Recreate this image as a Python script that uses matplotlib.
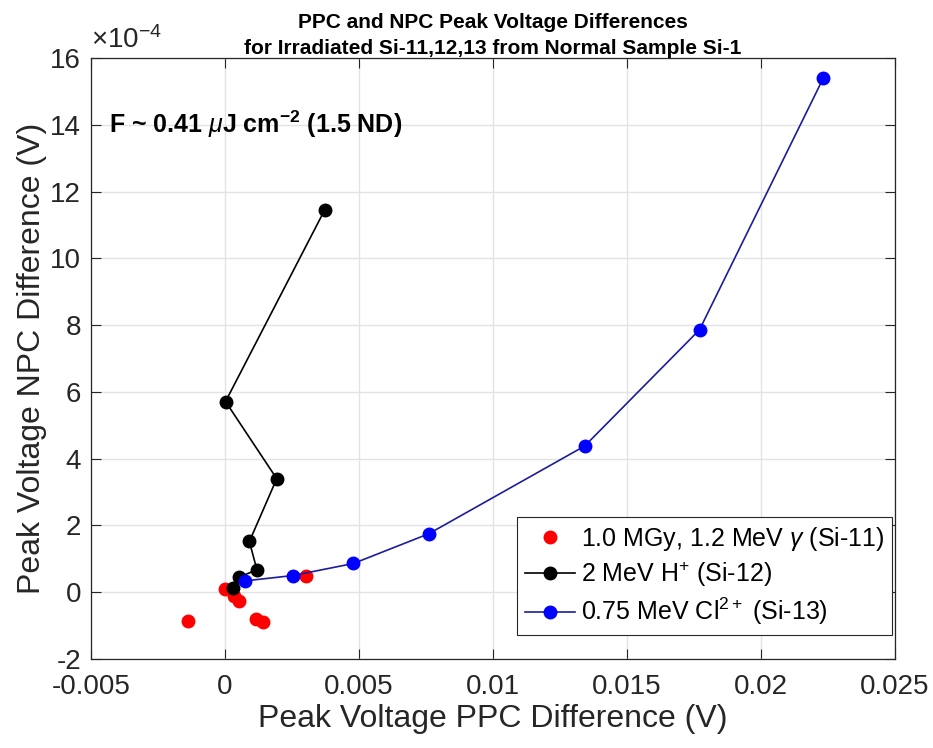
# PPC / NPC peak voltage differences for irradiated Si samples
import matplotlib
matplotlib.use("Agg")
import matplotlib.pyplot as plt

plt.rcParams["font.family"] = ["Liberation Sans", "DejaVu Sans"]
plt.rcParams["mathtext.fontset"] = "custom"
plt.rcParams["mathtext.rm"] = "Liberation Sans"
plt.rcParams["mathtext.it"] = "Liberation Sans:italic"
plt.rcParams["mathtext.bf"] = "Liberation Sans:bold"

# data (x: PPC difference in V, y: NPC difference in units of 1e-4 V)
gamma_x = [-0.00136, 0.0, 0.00033, 0.00054, 0.00116, 0.00141, 0.00303]
gamma_y = [-0.86, 0.10, -0.12, -0.26, -0.81, -0.88, 0.50]

proton_x = [0.00031, 0.00055, 0.0012, 0.00092, 0.00194, 0.00003, 0.00373]
proton_y = [0.12, 0.46, 0.67, 1.52, 3.40, 5.71, 11.45]

chlorine_x = [0.00077, 0.00255, 0.0048, 0.00761, 0.01343, 0.01771, 0.02233]
chlorine_y = [0.34, 0.50, 0.86, 1.75, 4.38, 7.86, 15.40]

xticks = [-0.005, 0, 0.005, 0.01, 0.015, 0.02, 0.025]
xtick_labels = ["-0.005", "0", "0.005", "0.01", "0.015", "0.02", "0.025"]
yticks = [-2, 0, 2, 4, 6, 8, 10, 12, 14, 16]
ytick_labels = ["-2", "0", "2", "4", "6", "8", "10", "12", "14", "16"]

fig = plt.figure(figsize=(9.33, 7.48), dpi=100)
ax = fig.add_axes([0.0972, 0.1190, 0.862, 0.8035])

ax.plot(gamma_x, gamma_y, "o", color="red", markersize=9, linestyle="none",
        label=r"1.0 MGy, 1.2 MeV $\gamma$ (Si-11)", zorder=3)
ax.plot(proton_x, proton_y, "-o", color="black", markersize=9, linewidth=1.2,
        label=r"2 MeV H$^{+}$ (Si-12)", zorder=4)
ax.plot(chlorine_x, chlorine_y, "-", color="#1c1c9c", linewidth=1.2, zorder=5)
ax.plot(chlorine_x, chlorine_y, "o", color="blue", markersize=9, zorder=6)
# legend proxy for the blue series
ax.plot([], [], "-o", color="#1c1c9c", markerfacecolor="blue", markeredgecolor="blue",
        markersize=9, linewidth=1.2, label=r"0.75 MeV Cl$^{2+}$ (Si-13)")

ax.set_xlim(-0.005, 0.025)
ax.set_ylim(-2, 16)
ax.set_xticks(xticks)
ax.set_xticklabels(xtick_labels)
ax.set_yticks(yticks)
ax.set_yticklabels(ytick_labels)

ax.grid(True, color="#e3e3e3", linewidth=1.0)
ax.set_axisbelow(True)
ax.tick_params(direction="in", top=True, right=True, length=7, width=0.8,
               colors="0.15", labelsize=20)
ax.tick_params(axis="x", pad=11)
ax.tick_params(axis="y", pad=7)
for s in ax.spines.values():
    s.set_color("0.15")
    s.set_linewidth(0.9)

ax.set_xlabel("Peak Voltage PPC Difference (V)", fontsize=23, color="0.15", labelpad=3)
ax.set_ylabel("Peak Voltage NPC Difference (V)", fontsize=23, color="0.15", labelpad=2)
ax.set_title("PPC and NPC Peak Voltage Differences\n"
             "for Irradiated Si-11,12,13 from Normal Sample Si-1",
             fontsize=15, fontweight="bold", pad=3, linespacing=1.45)

ax.text(0.0, 1.006, r"$\times\mathregular{10^{-4}}$", transform=ax.transAxes,
        fontsize=20, color="0.15", ha="left", va="bottom")

ax.text(-0.0043, 14, r"F ~ 0.41 $\mu$J cm$^{\mathbf{-2}}$ (1.5 ND)", fontsize=18,
        fontweight="bold", ha="left", va="center")

leg = ax.legend(loc="lower right", bbox_to_anchor=(0.9963, 0.040), fontsize=18,
                frameon=True, fancybox=False, edgecolor="0.15", framealpha=1,
                handlelength=2.0, handletextpad=0.25, borderpad=0.3,
                labelspacing=0.28, borderaxespad=0.0)
leg.get_frame().set_linewidth(0.8)

fig.savefig("out.png", dpi=100)
